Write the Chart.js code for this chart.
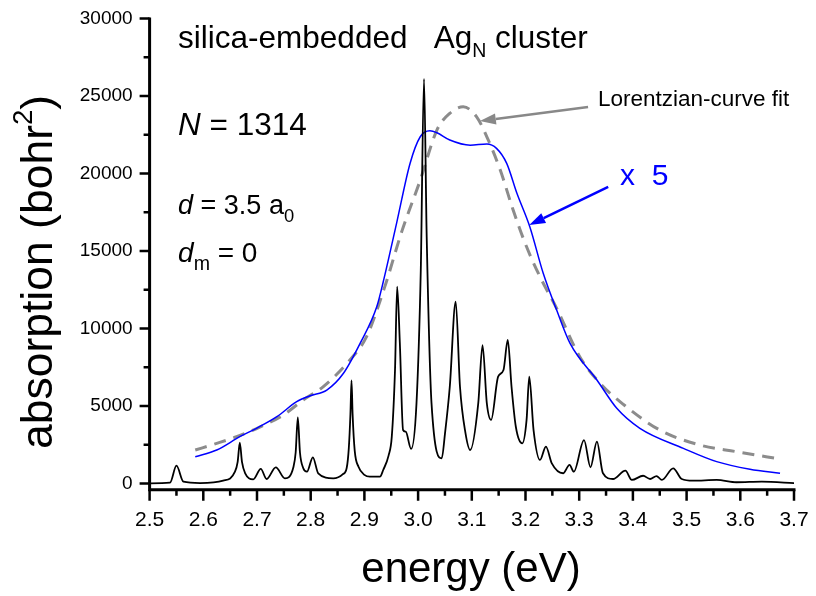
<!DOCTYPE html>
<html>
<head>
<meta charset="utf-8">
<title>AgN cluster absorption</title>
<script src="https://cdn.jsdelivr.net/npm/chart.js@4"></script>
<style>
  body { margin: 0; background: #fff; }
  #wrap { width: 816px; height: 596px; }
</style>
</head>
<body>
<div id="wrap"><canvas id="spec" width="816" height="596"></canvas></div>
<script>
// computed absorption spectrum (energy in eV, absorption in bohr^2)
const specE = [2.500, 2.538, 2.550, 2.563, 2.594, 2.637, 2.659, 2.664, 2.668, 2.672,
               2.678, 2.693, 2.707, 2.718, 2.735, 2.752, 2.768, 2.772, 2.776, 2.780,
               2.786, 2.793, 2.804, 2.814, 2.842, 2.860, 2.867, 2.871, 2.874, 2.876,
               2.878, 2.882, 2.889, 2.900, 2.910, 2.929, 2.935, 2.945, 2.951, 2.957,
               2.961, 2.966, 2.972, 2.977, 2.987, 2.997, 3.005, 3.011, 3.016, 3.025,
               3.044, 3.050, 3.059, 3.070, 3.078, 3.088, 3.097, 3.112, 3.120, 3.128,
               3.136, 3.149, 3.159, 3.167, 3.174, 3.182, 3.194, 3.202, 3.207, 3.215,
               3.227, 3.238, 3.249, 3.270, 3.282, 3.290, 3.309, 3.321, 3.333, 3.344,
               3.363, 3.386, 3.398, 3.419, 3.432, 3.444, 3.454, 3.475, 3.491, 3.512,
               3.556, 3.593, 3.640, 3.702];
const specA = [10, 50, 1150, 120, 30, 180, 760, 1400, 2630, 1400,
               660, 270, 940, 290, 1040, 330, 1080, 2000, 4270, 2000,
               1000, 760, 1690, 660, 330, 600, 1000, 2300, 4500, 6650,
               4500, 2100, 1080, 560, 440, 440, 870, 1800, 3020, 7320,
               12700, 9060, 3450, 3340, 2230, 5170, 13770, 26100, 15920, 5170,
               1630, 3200, 6240, 11730, 6240, 3300, 2160, 5170, 8930, 5170,
               4100, 6890, 7320, 9260, 6240, 3660, 2590, 4100, 6890, 3450,
               1520, 2380, 1300, 660, 1200, 760, 2800, 1050, 2700, 680,
               290, 830, 230, 500, 290, 480, 230, 980, 290, 180,
               230, 80, 120, 20];

// broadened spectrum, multiplied by 5
const smoothE = [2.585, 2.625, 2.668, 2.699, 2.737, 2.774, 2.799, 2.830, 2.861, 2.892,
                 2.923, 2.935, 2.960, 2.985, 3.004, 3.022, 3.035, 3.059, 3.097, 3.128,
                 3.146, 3.165, 3.184, 3.208, 3.233, 3.258, 3.283, 3.333, 3.370, 3.413,
                 3.494, 3.556, 3.618, 3.674];
const smoothA = [1730, 2160, 3020, 3560, 4310, 5280, 5660, 6030, 7110, 9040,
                 11400, 13000, 16800, 20650, 22370, 22760, 22630, 22160, 21830, 21900,
                 21620, 20650, 18720, 16560, 13560, 11190, 9040, 6680, 4850, 3560,
                 2270, 1410, 920, 660];

// Lorentzian-curve fit
const fitE = [2.585, 2.625, 2.662, 2.706, 2.749, 2.786, 2.823, 2.873, 2.904, 2.938,
              2.970, 3.004, 3.035, 3.059, 3.084, 3.109, 3.128, 3.153, 3.177, 3.202,
              3.227, 3.258, 3.301, 3.339, 3.388, 3.450, 3.525, 3.593, 3.674];
const fitA = [2160, 2590, 3020, 3660, 4420, 5390, 6240, 7970, 9470, 12700,
              16300, 19570, 22800, 23880, 24300, 23660, 22370, 20220, 17640, 15270,
              13340, 11300, 8180, 6460, 4950, 3450, 2480, 2050, 1580];

const energyTicks = [2.5, 2.6, 2.7, 2.8, 2.9, 3.0, 3.1, 3.2, 3.3, 3.4, 3.5, 3.6, 3.7];
const absTicks = [0, 5000, 10000, 15000, 20000, 25000, 30000];

const FONT = '"Liberation Sans", Arial, sans-serif';
const pts = (xs, ys) => xs.map((x, i) => ({ x: x, y: ys[i] }));

// draw a run of text pieces (italic / subscript / superscript), returns width
function textRun(ctx, x, y, parts, size, draw) {
  let cx = x;
  for (const p of parts) {
    const s = (p.sub || p.sup) ? size * (p.k || 0.62) : size;
    ctx.font = (p.it ? 'italic ' : '') + s + 'px ' + FONT;
    const dy = p.sub ? size * 0.3 : p.sup ? -size * 0.45 : 0;
    if (draw) ctx.fillText(p.t, cx, y + dy);
    cx += ctx.measureText(p.t).width;
  }
  return cx - x;
}

function arrow(ctx, x0, y0, x1, y1, color, w, hl, hw) {
  const a = Math.atan2(y1 - y0, x1 - x0);
  const bx = x1 - hl * Math.cos(a), by = y1 - hl * Math.sin(a);
  ctx.strokeStyle = color; ctx.fillStyle = color; ctx.lineWidth = w;
  ctx.beginPath(); ctx.moveTo(x0, y0); ctx.lineTo(bx, by); ctx.stroke();
  ctx.beginPath();
  ctx.moveTo(x1, y1);
  ctx.lineTo(bx + hw / 2 * Math.sin(a), by - hw / 2 * Math.cos(a));
  ctx.lineTo(bx - hw / 2 * Math.sin(a), by + hw / 2 * Math.cos(a));
  ctx.closePath(); ctx.fill();
}

const decor = {
  id: 'decor',
  afterDraw(chart) {
    const ctx = chart.ctx, xs = chart.scales.x, ys = chart.scales.y, ca = chart.chartArea;
    const px = v => xs.getPixelForValue(v), py = v => ys.getPixelForValue(v);
    ctx.save();

    // axes with major and minor ticks
    ctx.strokeStyle = '#000'; ctx.lineWidth = 3;
    ctx.beginPath();
    ctx.moveTo(ca.left, ca.top - 1); ctx.lineTo(ca.left, ca.bottom + 1.5);
    ctx.moveTo(ca.left - 1.5, ca.bottom); ctx.lineTo(ca.right + 1.5, ca.bottom);
    ctx.stroke();
    ctx.lineWidth = 2.5;
    ctx.beginPath();
    xs.ticks.forEach((t, i) => {
      const X = px(t.value);
      ctx.moveTo(X, ca.bottom); ctx.lineTo(X, ca.bottom + 11);
      if (i < xs.ticks.length - 1) {
        const m = px((t.value + xs.ticks[i + 1].value) / 2);
        ctx.moveTo(m, ca.bottom); ctx.lineTo(m, ca.bottom + 6);
      }
    });
    ys.ticks.forEach((t, i) => {
      const Y = py(t.value);
      ctx.moveTo(ca.left, Y); ctx.lineTo(ca.left - 10, Y);
      if (i < ys.ticks.length - 1) {
        const m = py((t.value + ys.ticks[i + 1].value) / 2);
        ctx.moveTo(ca.left, m); ctx.lineTo(ca.left - 6, m);
      }
    });
    ctx.stroke();

    // axis titles
    ctx.fillStyle = '#000'; ctx.textBaseline = 'alphabetic'; ctx.textAlign = 'left';
    const xt = [{ t: 'energy (eV)' }];
    const xw = textRun(ctx, 0, 0, xt, 42, false);
    textRun(ctx, 471 - xw / 2, 582, xt, 42, true);
    const yt = [{ t: 'absorption (bohr' }, { t: '2', sup: true }, { t: ')' }];
    const yw = textRun(ctx, 0, 0, yt, 44.5, false);
    ctx.save();
    ctx.translate(52, 272); ctx.rotate(-Math.PI / 2);
    textRun(ctx, -yw / 2, 0, yt, 44.5, true);
    ctx.restore();

    // labels inside the plot
    textRun(ctx, px(2.553), py(28100),
      [{ t: 'silica-embedded   Ag' }, { t: 'N', sub: true }, { t: ' cluster' }], 31.5, true);
    textRun(ctx, px(2.553), py(22480), [{ t: 'N', it: true }, { t: ' = 1314' }], 31.5, true);
    textRun(ctx, px(2.553), py(17380),
      [{ t: 'd', it: true }, { t: ' = 3.5 a' }, { t: '0', sub: true, k: 0.68 }], 27, true);
    textRun(ctx, px(2.553), py(14290),
      [{ t: 'd', it: true }, { t: 'm', sub: true, k: 0.7 }, { t: ' = 0' }], 28, true);
    textRun(ctx, px(3.335), py(24380), [{ t: 'Lorentzian-curve fit' }], 22.5, true);
    ctx.fillStyle = '#0000ff';
    textRun(ctx, px(3.376), py(19250), [{ t: 'x  5' }], 30, true);

    // arrows pointing at the fit and the broadened curve
    arrow(ctx, px(3.3165), py(24290), px(3.115), py(23380), '#888888', 2.5, 16, 11);
    arrow(ctx, px(3.354), py(19140), px(3.207), py(16670), '#0000ff', 2.5, 16, 11);
    ctx.restore();
  }
};

new Chart(document.getElementById('spec'), {
  type: 'line',
  data: {
    datasets: [
      { label: 'spectrum', data: pts(specE, specA), borderColor: '#000000', borderWidth: 1.8 },
      { label: 'x 5', data: pts(smoothE, smoothA), borderColor: '#0000ff', borderWidth: 1.5 },
      { label: 'Lorentzian-curve fit', data: pts(fitE, fitA), borderColor: '#8c8c8c',
        borderWidth: 3, borderDash: [12, 8] }
    ]
  },
  options: {
    responsive: false,
    animation: false,
    layout: { padding: { left: 0, top: 18.5, right: 22, bottom: 0 } },
    elements: {
      point: { radius: 0 },
      line: { cubicInterpolationMode: 'monotone', fill: false }
    },
    plugins: { legend: { display: false }, tooltip: { enabled: false } },
    scales: {
      x: {
        type: 'linear', min: 2.5, max: 3.7,
        grid: { display: false, drawTicks: false },
        border: { display: false },
        afterBuildTicks: s => { s.ticks = energyTicks.map(v => ({ value: v })); },
        afterFit: s => { s.height = 106.3; s.paddingLeft = 0; s.paddingRight = 0; },
        ticks: {
          autoSkip: false, maxRotation: 0, padding: 18, color: '#000',
          font: { family: FONT, size: 21 },
          callback: v => v.toFixed(1)
        }
      },
      y: {
        type: 'linear', min: -400, max: 30000,
        grid: { display: false, drawTicks: false },
        border: { display: false },
        afterBuildTicks: s => { s.ticks = absTicks.map(v => ({ value: v })); },
        afterFit: s => { s.width = 149.6; s.paddingTop = 0; s.paddingBottom = 0; },
        ticks: {
          padding: 17, color: '#000',
          font: { family: FONT, size: 19 },
          callback: v => String(v)
        }
      }
    }
  },
  plugins: [decor]
});
</script>
</body>
</html>
